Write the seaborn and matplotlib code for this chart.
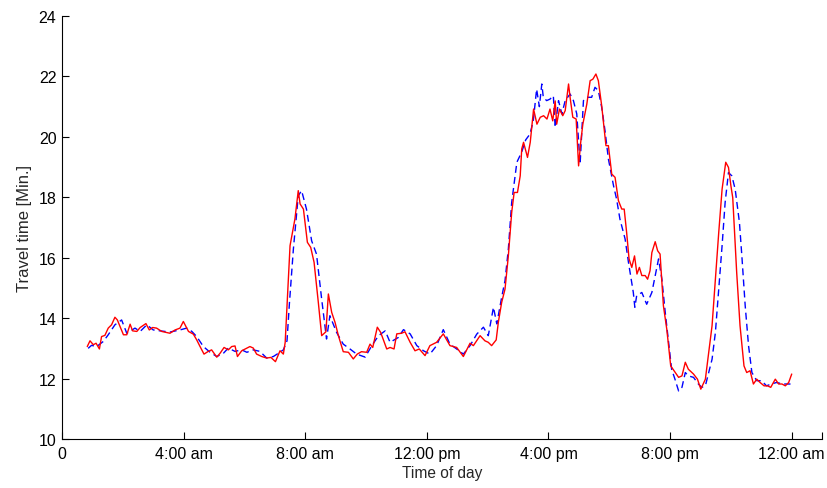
import numpy as np
import matplotlib
matplotlib.use("Agg")
import matplotlib.pyplot as plt
import seaborn as sns

# Observed travel time (red, solid) - hour of day / minutes
red_hours = [0.83, 0.92, 1.03, 1.12, 1.23, 1.30, 1.41, 1.52, 1.63, 1.74, 1.82, 1.91, 2.02, 2.13,
             2.24, 2.32, 2.46, 2.57, 2.76, 2.87, 2.98, 3.11, 3.28, 3.55, 3.72, 3.88, 3.99, 4.16,
             4.32, 4.43, 4.54, 4.67, 4.81, 4.92, 5.09, 5.20, 5.33, 5.47, 5.58, 5.69, 5.77, 5.91,
             6.08, 6.18, 6.29, 6.40, 6.57, 6.73, 6.87, 7.02, 7.17, 7.28, 7.34, 7.50, 7.66, 7.77,
             7.83, 7.94, 8.07, 8.18, 8.29, 8.43, 8.54, 8.68, 8.76, 8.87, 8.98, 9.09, 9.25, 9.42,
             9.58, 9.71, 9.85, 10.02, 10.13, 10.22, 10.37, 10.48, 10.68, 10.79, 10.92, 11.01, 11.17,
             11.28, 11.45, 11.61, 11.75, 11.94, 12.10, 12.32, 12.54, 12.76, 12.98, 13.20, 13.42,
             13.53, 13.75, 13.91, 14.02, 14.13, 14.28, 14.35, 14.46, 14.57, 14.68, 14.79, 14.87,
             14.98, 15.07, 15.12, 15.18, 15.31, 15.40, 15.51, 15.62, 15.73, 15.84, 15.95, 16.05,
             16.14, 16.22, 16.27, 16.36, 16.47, 16.55, 16.66, 16.71, 16.80, 16.91, 16.99, 17.06,
             17.13, 17.26, 17.37, 17.46, 17.56, 17.64, 17.75, 17.89, 17.97, 18.08, 18.19, 18.30,
             18.41, 18.49, 18.57, 18.65, 18.74, 18.83, 18.91, 18.99, 19.07, 19.18, 19.26, 19.34,
             19.40, 19.51, 19.59, 19.67, 19.78, 19.89, 20.02, 20.13, 20.28, 20.39, 20.50, 20.60,
             20.77, 20.90, 21.01, 21.16, 21.27, 21.38, 21.49, 21.60, 21.71, 21.83, 21.92, 22.00,
             22.06, 22.19, 22.30, 22.43, 22.52, 22.63, 22.74, 22.85, 22.96, 23.09, 23.20, 23.31,
             23.46, 23.57, 23.68, 23.79, 23.90, 24.00]
red_minutes = [13.06, 13.25, 13.12, 13.17, 12.98, 13.39, 13.43, 13.67, 13.78, 14.03, 13.94, 13.72,
               13.45, 13.45, 13.80, 13.58, 13.56, 13.69, 13.82, 13.61, 13.69, 13.67, 13.56, 13.50,
               13.61, 13.67, 13.89, 13.56, 13.47, 13.28, 13.06, 12.81, 12.90, 12.95, 12.71, 12.84,
               13.03, 12.95, 13.06, 13.08, 12.73, 12.92, 13.01, 13.06, 13.01, 12.81, 12.73, 12.68,
               12.70, 12.56, 12.92, 12.81, 13.20, 16.40, 17.28, 18.22, 17.78, 17.61, 16.51, 16.34,
               15.85, 14.52, 13.42, 13.55, 14.80, 14.19, 13.86, 13.42, 12.89, 12.87, 12.65, 12.81,
               12.89, 12.87, 13.14, 13.03, 13.70, 13.53, 12.98, 13.03, 12.98, 13.48, 13.50, 13.55,
               13.20, 12.92, 12.98, 12.76, 13.09, 13.20, 13.48, 13.09, 13.03, 12.73, 13.17, 13.09,
               13.42, 13.25, 13.20, 13.09, 13.28, 13.86, 14.52, 14.96, 16.06, 17.50, 18.16, 18.16,
               18.71, 19.60, 19.82, 19.32, 19.82, 20.92, 20.42, 20.65, 20.70, 20.59, 20.92, 20.53,
               21.19, 20.42, 20.92, 20.70, 20.87, 21.75, 21.31, 20.65, 20.59, 19.04, 19.82, 20.42,
               21.08, 21.86, 21.91, 22.08, 21.86, 21.03, 19.71, 19.71, 18.77, 18.66, 17.89, 17.61,
               17.61, 16.84, 15.96, 15.68, 16.06, 15.46, 15.68, 15.41, 15.41, 15.29, 15.57, 16.17,
               16.53, 16.23, 16.12, 14.41, 13.64, 12.42, 12.26, 12.04, 12.09, 12.54, 12.31, 12.15,
               11.98, 11.65, 11.98, 12.87, 13.75, 15.29, 16.84, 18.27, 19.16, 18.99, 18.38, 17.99,
               15.51, 13.75, 12.42, 12.20, 12.26, 11.82, 11.98, 11.87, 11.76, 11.76, 11.71, 11.98,
               11.82, 11.82, 11.76, 11.87, 12.15]

# Predicted travel time (blue, dashed)
blue_hours = [0.86, 0.97, 1.14, 1.36, 1.52, 1.74, 1.96, 2.13, 2.40, 2.57, 2.79, 3.00, 3.22, 3.55,
              3.88, 4.10, 4.27, 4.43, 4.65, 4.87, 5.09, 5.31, 5.47, 5.69, 5.91, 6.08, 6.29, 6.51,
              6.73, 6.95, 7.12, 7.28, 7.40, 7.48, 7.61, 7.77, 7.88, 8.04, 8.21, 8.37, 8.54, 8.70,
              8.81, 9.03, 9.25, 9.47, 9.69, 9.97, 10.19, 10.41, 10.63, 10.79, 11.06, 11.23, 11.45,
              11.67, 11.89, 12.10, 12.32, 12.54, 12.76, 12.98, 13.20, 13.42, 13.64, 13.86, 14.02,
              14.19, 14.30, 14.46, 14.57, 14.68, 14.79, 14.96, 15.12, 15.25, 15.39, 15.50, 15.61,
              15.70, 15.78, 15.83, 15.94, 16.05, 16.16, 16.22, 16.33, 16.44, 16.55, 16.71, 16.82,
              16.93, 17.04, 17.15, 17.26, 17.42, 17.53, 17.64, 17.75, 17.86, 17.97, 18.14, 18.24,
              18.35, 18.52, 18.63, 18.79, 18.84, 18.90, 19.07, 19.23, 19.40, 19.51, 19.62, 19.73,
              19.84, 19.94, 20.05, 20.16, 20.28, 20.39, 20.50, 20.60, 20.77, 20.93, 21.04, 21.16,
              21.27, 21.38, 21.49, 21.60, 21.71, 21.81, 21.92, 22.03, 22.14, 22.28, 22.36, 22.47,
              22.58, 22.69, 22.85, 23.01, 23.17, 23.33, 23.50, 23.72, 23.96]
blue_minutes = [13.00, 13.10, 13.06, 13.23, 13.45, 13.78, 13.94, 13.50, 13.67, 13.56, 13.78, 13.61,
                13.58, 13.54, 13.61, 13.67, 13.56, 13.39, 13.06, 12.87, 12.73, 12.84, 13.01, 12.90,
                12.95, 12.87, 12.95, 12.90, 12.68, 12.73, 12.84, 12.95, 13.25, 14.50, 16.29, 18.05,
                18.22, 17.61, 16.56, 16.12, 14.63, 13.31, 14.08, 13.53, 13.14, 12.98, 12.81, 12.71,
                13.09, 13.42, 13.58, 13.20, 13.36, 13.62, 13.48, 13.09, 12.92, 12.81, 13.09, 13.62,
                13.14, 12.98, 12.81, 13.09, 13.47, 13.70, 13.42, 14.36, 13.81, 14.69, 15.24, 16.29,
                17.83, 19.16, 19.50, 19.90, 20.09, 20.53, 21.58, 21.00, 21.75, 21.31, 21.20, 21.25,
                21.36, 20.31, 21.20, 20.76, 21.20, 21.42, 21.20, 20.76, 19.10, 21.20, 21.31, 21.31,
                21.64, 21.53, 20.98, 20.20, 19.27, 18.38, 17.94, 17.28, 16.62, 15.85, 14.85, 14.36,
                14.74, 14.85, 14.46, 14.85, 15.41, 15.96, 15.29, 14.19, 13.31, 12.31, 11.98, 11.59,
                11.71, 12.20, 12.09, 12.04, 11.82, 11.71, 11.76, 12.20, 12.64, 13.53, 14.96, 16.40,
                17.83, 18.82, 18.71, 18.27, 17.17, 16.06, 14.41, 13.09, 12.20, 11.93, 11.93, 11.76,
                11.82, 11.87, 11.82, 11.82]

tick_hours = [0, 4, 8, 12, 16, 20, 24, 25]
tick_labels = ["0", "4:00 am", "8:00 am", "12:00 pm", "4:00 pm", "8:00 pm", "12:00 am", ""]

sns.set_style("ticks")
plt.rcParams['font.family'] = ['Liberation Sans', 'DejaVu Sans']

fig = plt.figure(figsize=(8.28, 4.89), dpi=100)
ax = fig.add_axes([0.0749, 0.1002, 0.918, 0.8650])

sns.lineplot(x=blue_hours, y=blue_minutes, color='blue', linewidth=1.0,
             linestyle=(0, (5, 3)), ax=ax)
sns.lineplot(x=red_hours, y=red_minutes, color='red', linewidth=1.0, ax=ax)

ax.set_xlim(0, 25)
ax.set_ylim(10, 24)
ax.set_xticks(tick_hours)
ax.set_xticklabels(tick_labels)
ax.set_yticks(np.arange(10, 25, 2))
ax.tick_params(direction='in', length=5, width=0.8, colors='black', labelsize=11.5, pad=5)
ax.tick_params(axis='y', pad=4)
ax.set_xlabel('Time of day', fontsize=11.2, labelpad=3)
ax.set_ylabel('Travel time [Min.]', fontsize=12, labelpad=5)
sns.despine(ax=ax)
for s in ['left', 'bottom']:
    ax.spines[s].set_linewidth(0.8)
    ax.spines[s].set_color('black')

fig.savefig('out.png', dpi=100)
